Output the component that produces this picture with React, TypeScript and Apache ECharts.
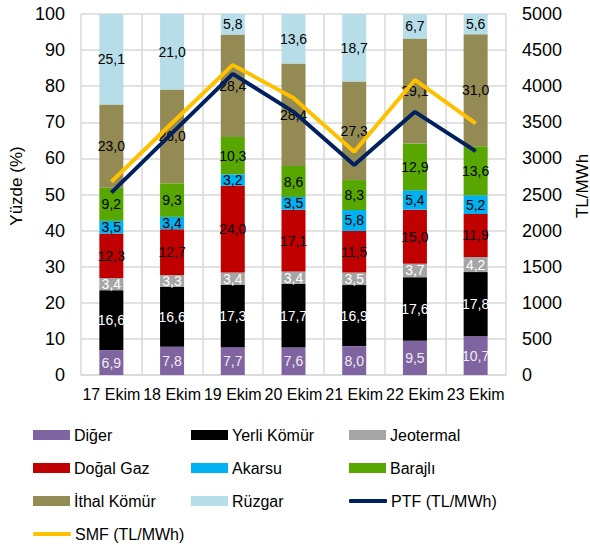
import React, { useEffect, useRef } from "react";
import * as echarts from "echarts";

const categories = ["17 Ekim", "18 Ekim", "19 Ekim", "20 Ekim", "21 Ekim", "22 Ekim", "23 Ekim"];
const diger = [6.9, 7.8, 7.7, 7.6, 8.0, 9.5, 10.7];
const yerliKomur = [16.6, 16.6, 17.3, 17.7, 16.9, 17.6, 17.8];
const jeotermal = [3.4, 3.3, 3.4, 3.4, 3.5, 3.7, 4.2];
const dogalGaz = [12.3, 12.7, 24.0, 17.1, 11.5, 15.0, 11.9];
const akarsu = [3.5, 3.4, 3.2, 3.5, 5.8, 5.4, 5.2];
const barajli = [9.2, 9.3, 10.3, 8.6, 8.3, 12.9, 13.6];
const ithalKomur = [23.0, 26.0, 28.4, 28.4, 27.3, 29.1, 31.0];
const ruzgar = [25.1, 21.0, 5.8, 13.6, 18.7, 6.7, 5.6];
const ptf = [2525, 3350, 4170, 3645, 2910, 3645, 3100];
const smf = [2677, 3490, 4295, 3836, 3093, 4086, 3484];

const leftTicks = { min: 0, max: 100, interval: 10 };
const rightTicks = { min: 0, max: 5000, interval: 500 };

const FONT = "'Liberation Sans', Arial, sans-serif";

const barDefs = [
  { name: "Diğer", data: diger, color: "#8064A2", label: "#eeeeee" },
  { name: "Yerli Kömür", data: yerliKomur, color: "#000000", label: "#ffffff" },
  { name: "Jeotermal", data: jeotermal, color: "#A5A5A5", label: "#ffffff" },
  { name: "Doğal Gaz", data: dogalGaz, color: "#C00000", label: "#000000" },
  { name: "Akarsu", data: akarsu, color: "#00B0F0", label: "#000000" },
  { name: "Barajlı", data: barajli, color: "#58A700", label: "#000000" },
  { name: "İthal Kömür", data: ithalKomur, color: "#948A54", label: "#000000" },
  { name: "Rüzgar", data: ruzgar, color: "#B7DEE8", label: "#000000" },
];

const lineDefs = [
  { name: "PTF (TL/MWh)", data: ptf, color: "#002060" },
  { name: "SMF (TL/MWh)", data: smf, color: "#FFC000" },
];

// legend layout: [name, x, centerY, isLine]
const legendLayout: [string, number, number, boolean][] = [
  ["Diğer", 33, 435, false],
  ["Yerli Kömür", 191, 435, false],
  ["Jeotermal", 349, 435, false],
  ["Doğal Gaz", 33, 468, false],
  ["Akarsu", 191, 468, false],
  ["Barajlı", 349, 468, false],
  ["İthal Kömür", 33, 501, false],
  ["Rüzgar", 191, 501, false],
  ["PTF (TL/MWh)", 349, 501, true],
  ["SMF (TL/MWh)", 33, 534, true],
];

export default function App() {
  const ref = useRef<HTMLDivElement>(null);

  useEffect(() => {
    if (!ref.current) return;
    const chart = echarts.init(ref.current, undefined, { renderer: "svg" });

    const series: any[] = barDefs.map((b) => ({
      name: b.name,
      type: "bar",
      stack: "total",
      data: b.data,
      barWidth: 24,
      itemStyle: { color: b.color },
      label: {
        show: true,
        position: "inside",
        color: b.label,
        fontFamily: FONT,
        fontSize: 14,
        formatter: (p: any) => Number(p.value).toFixed(1).replace(".", ","),
      },
      z: 2,
    }));
    lineDefs.forEach((l) => {
      series.push({
        name: l.name,
        type: "line",
        yAxisIndex: 1,
        data: l.data,
        symbol: "none",
        itemStyle: { color: l.color },
        lineStyle: { color: l.color, width: 4 },
        z: 5,
      });
    });

    const legends = legendLayout.map(([name, x, cy, isLine]) => ({
      data: [{ name, icon: isLine ? "roundRect" : "rect" }],
      left: x,
      top: cy - 10,
      padding: 0,
      itemWidth: isLine ? 38 : 37,
      itemHeight: isLine ? 4 : 10,
      itemGap: 0,
      selectedMode: false,
      textStyle: {
        fontFamily: FONT,
        fontSize: 16,
        color: "#000",
        lineHeight: 20,
        padding: [0, 0, 0, -1],
      },
    }));

    chart.setOption({
      animation: false,
      textStyle: { fontFamily: FONT },
      grid: { left: 81, right: 84, top: 14, bottom: 170, containLabel: false },
      legend: legends,
      xAxis: {
        type: "category",
        data: categories,
        boundaryGap: true,
        axisLine: { show: true, lineStyle: { color: "#d9d9d9", width: 1.5 } },
        axisTick: { show: false },
        axisLabel: { fontFamily: FONT, fontSize: 16, color: "#000", margin: 11, interval: 0 },
        splitLine: { show: true, lineStyle: { color: "#d9d9d9", width: 1.5 } },
      },
      yAxis: [
        {
          type: "value",
          ...leftTicks,
          axisLine: { show: false },
          axisTick: { show: false },
          axisLabel: { fontFamily: FONT, fontSize: 18, color: "#000", margin: 16 },
          splitLine: { show: true, lineStyle: { color: "#d9d9d9", width: 1.5 } },
        },
        {
          type: "value",
          ...rightTicks,
          position: "right",
          axisLine: { show: false },
          axisTick: { show: false },
          axisLabel: {
            fontFamily: FONT,
            fontSize: 18,
            color: "#000",
            margin: 16,
            formatter: (v: number) => String(v),
          },
          splitLine: { show: false },
        },
      ],
      graphic: [
        {
          type: "text",
          x: 16,
          y: 186,
          rotation: Math.PI / 2,
          style: {
            text: "Yüzde (%)",
            font: `17px ${FONT}`,
            fill: "#000",
            textAlign: "center",
            textVerticalAlign: "middle",
          },
        },
        {
          type: "text",
          x: 582,
          y: 186,
          rotation: Math.PI / 2,
          style: {
            text: "TL/MWh",
            font: `17px ${FONT}`,
            fill: "#000",
            textAlign: "center",
            textVerticalAlign: "middle",
          },
        },
      ],
      series,
    });

    return () => chart.dispose();
  }, []);

  return (
    <div
      ref={ref}
      style={{ position: "absolute", left: 0, top: 0, width: 590, height: 545 }}
    />
  );
}
